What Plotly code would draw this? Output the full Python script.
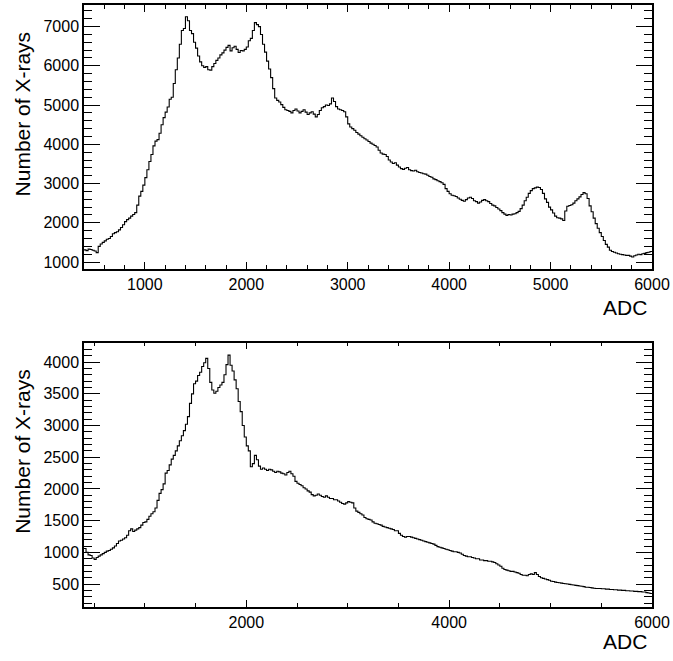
import plotly.graph_objects as go

# ---- data ----
bin_start = 400
bin_width = 20

top_counts = [
    1310, 1290, 1330, 1320, 1300, 1280, 1240, 1400, 1460, 1500,
    1540, 1580, 1600, 1650, 1720, 1750, 1770, 1820, 1880, 1950,
    2030, 2080, 2120, 2170, 2210, 2260, 2450, 2680, 2800, 2960,
    3150, 3350, 3560, 3740, 3960, 4080, 4120, 4280, 4500, 4680,
    4820, 4950, 5150, 5200, 5550, 5900, 6200, 6550, 6900, 6950,
    7250, 7150, 6900, 6820, 6600, 6450, 6250, 6100, 6000, 5960,
    5980, 5900, 5890, 5980, 6060, 6140, 6200, 6280, 6330, 6400,
    6470, 6520, 6380, 6460, 6500, 6420, 6340, 6390, 6380, 6420,
    6480, 6640, 6700, 6900, 7100, 7050, 7000, 6800, 6550, 6350,
    6120, 5920, 5700, 5420, 5180, 5120, 5080, 5010, 4940, 4880,
    4860, 4840, 4800, 4860, 4900, 4850, 4800, 4840, 4880, 4820,
    4760, 4800, 4830, 4770, 4700, 4760, 4860, 4930, 4960, 5000,
    4990, 5030, 5180, 5090, 4960, 4900, 4880, 4860, 4830, 4700,
    4520, 4440, 4400, 4360, 4300, 4260, 4220, 4180, 4140, 4110,
    4070, 4030, 4000, 3970, 3930, 3850, 3780, 3750, 3740, 3690,
    3600, 3550, 3510, 3530, 3470, 3420, 3380, 3360, 3390, 3410,
    3350, 3330, 3320, 3340, 3300, 3280, 3270, 3250, 3240, 3210,
    3180, 3160, 3120, 3100, 3070, 3050, 3020, 2980, 2870, 2800,
    2740, 2700, 2690, 2670, 2630, 2600, 2570, 2550, 2590, 2630,
    2650, 2620, 2560, 2540, 2500, 2530, 2570, 2590, 2560, 2540,
    2490, 2450, 2430, 2390, 2350, 2310, 2260, 2220, 2190, 2210,
    2200, 2220, 2230, 2260, 2290, 2360, 2450, 2560, 2650, 2750,
    2820, 2870, 2890, 2910, 2900, 2850, 2750, 2610, 2520, 2400,
    2330, 2250, 2170, 2130, 2120, 2100, 2060, 2300, 2420, 2440,
    2460, 2500, 2560, 2610, 2660, 2720, 2770, 2740, 2620, 2430,
    2280, 2120, 1980, 1860, 1750, 1650, 1550, 1450, 1380, 1300,
    1270, 1250, 1230, 1210, 1200, 1190, 1180, 1170, 1170, 1150,
    1130, 1160, 1180, 1200, 1190, 1210, 1220, 1240, 1250, 1270,
]

bottom_counts = [
    1060, 1000, 960, 950, 910, 890, 920, 940, 960, 980,
    1000, 1020, 1030, 1050, 1070, 1100, 1140, 1180, 1190, 1210,
    1230, 1270, 1340, 1370, 1330, 1350, 1370, 1390, 1430, 1470,
    1480, 1520, 1570, 1610, 1640, 1700, 1820, 1930, 1990, 2080,
    2250, 2290, 2380, 2470, 2530, 2600, 2680, 2760, 2840, 2920,
    3020, 3140, 3350, 3500, 3660, 3700, 3790, 3840, 3930, 3990,
    4060, 3900, 3680, 3560, 3510, 3540, 3600, 3640, 3680, 3800,
    3960, 4110, 3950, 3860, 3720, 3580, 3380, 3220, 3000, 2820,
    2680, 2600, 2350, 2400, 2530, 2460, 2360, 2310, 2330, 2310,
    2290, 2310, 2300, 2280, 2260, 2280, 2270, 2250, 2240, 2220,
    2260, 2280, 2240, 2200, 2120, 2090, 2070, 2050, 2020, 2000,
    1970, 1950, 1910, 1890, 1900, 1920, 1900, 1880, 1870, 1890,
    1870, 1850, 1850, 1830, 1830, 1810, 1790, 1770, 1760, 1780,
    1800, 1790, 1780, 1700, 1650, 1630, 1610, 1590, 1550, 1530,
    1520, 1510, 1480, 1460, 1450, 1440, 1430, 1410, 1400, 1390,
    1380, 1370, 1360, 1340, 1340, 1300, 1270, 1250, 1240, 1250,
    1250, 1240, 1230, 1220, 1210, 1200, 1190, 1180, 1170, 1160,
    1150, 1140, 1130, 1110, 1090, 1080, 1070, 1060, 1050, 1040,
    1030, 1020, 1010, 1010, 1000, 990, 970, 950, 940, 930,
    930, 920, 910, 900, 900, 880, 880, 870, 870, 860,
    860, 850, 840, 820, 800, 780, 750, 730, 720, 710,
    700, 700, 690, 680, 670, 650, 640, 640, 630, 650,
    660, 650, 680, 650, 620, 600, 590, 580, 570, 560,
    545, 540, 530, 525, 520, 515, 510, 505, 500, 495,
    490, 485, 480, 475, 470, 465, 460, 450, 450, 445,
    440, 435, 430, 430, 430, 425, 425, 420, 420, 415,
    415, 410, 410, 405, 405, 400, 400, 395, 395, 390,
    390, 385, 385, 380, 380, 375, 375, 365, 360, 350,
]

x_title = "ADC"
y_title = "Number of X-rays"


def step_xy(counts):
    edges = [bin_start + bin_width * i for i in range(len(counts) + 1)]
    return edges, list(counts) + [counts[-1]]


FONT = "Liberation Sans, Arial, Helvetica, sans-serif"

fig = go.Figure()
for counts, xa, ya in [(top_counts, "x", "y"), (bottom_counts, "x2", "y2")]:
    xs, ys = step_xy(counts)
    fig.add_trace(go.Scatter(
        x=xs, y=ys, mode="lines", line=dict(color="black", width=1.1, shape="hv"),
        xaxis=xa, yaxis=ya, showlegend=False, hoverinfo="skip",
    ))

axis_common = dict(
    showline=True, linecolor="black", linewidth=1.5, mirror="allticks",
    ticks="inside", tickcolor="black", showgrid=False, zeroline=False,
    tickfont=dict(family=FONT, size=16, color="black"),
)

fig.update_layout(
    width=673, height=661,
    paper_bgcolor="white", plot_bgcolor="white",
    margin=dict(l=84, r=18, t=3, b=54),
    xaxis=dict(domain=[0, 1], anchor="y", range=[400, 6000], tick0=0, dtick=1000,
               ticklen=7, tickwidth=1,
               minor=dict(dtick=200, tick0=0, ticklen=4, ticks="inside", tickcolor="black"),
               **axis_common),
    yaxis=dict(domain=[0.5613, 1.0], anchor="x", range=[820, 7550], tick0=0, dtick=1000,
               ticklen=16, tickwidth=1,
               minor=dict(dtick=200, tick0=0, ticklen=8, ticks="inside", tickcolor="black"),
               **axis_common),
    xaxis2=dict(domain=[0, 1], anchor="y2", range=[400, 6000], tick0=0, dtick=2000,
                ticklen=7, tickwidth=1,
                minor=dict(dtick=500, tick0=0, ticklen=4, ticks="inside", tickcolor="black"),
                **axis_common),
    yaxis2=dict(domain=[0.0005, 0.4392], anchor="x2", range=[143, 4308], tick0=0, dtick=500,
                ticklen=16, tickwidth=1,
                minor=dict(dtick=100, tick0=0, ticklen=8, ticks="inside", tickcolor="black"),
                **axis_common),
)

ann_font = dict(family=FONT, size=21, color="black")
fig.add_annotation(text=y_title, textangle=-90, xref="paper", yref="paper",
                   x=-0.1086, y=0.8187, xanchor="center", yanchor="middle",
                   showarrow=False, font=ann_font)
fig.add_annotation(text=y_title, textangle=-90, xref="paper", yref="paper",
                   x=-0.1086, y=0.2583, xanchor="center", yanchor="middle",
                   showarrow=False, font=ann_font)
fig.add_annotation(text=x_title, xref="paper", yref="paper",
                   x=0.9947, y=0.4983, xanchor="right", yanchor="middle",
                   showarrow=False, font=ann_font)
fig.add_annotation(text=x_title, xref="paper", yref="paper",
                   x=0.9947, y=-0.0575, xanchor="right", yanchor="middle",
                   showarrow=False, font=ann_font)

fig.write_html(
    "out.html",
    config={"displayModeBar": False},
    post_script="document.body.style.margin='0';document.body.style.overflow='hidden';"
                "document.documentElement.style.overflow='hidden';",
)
